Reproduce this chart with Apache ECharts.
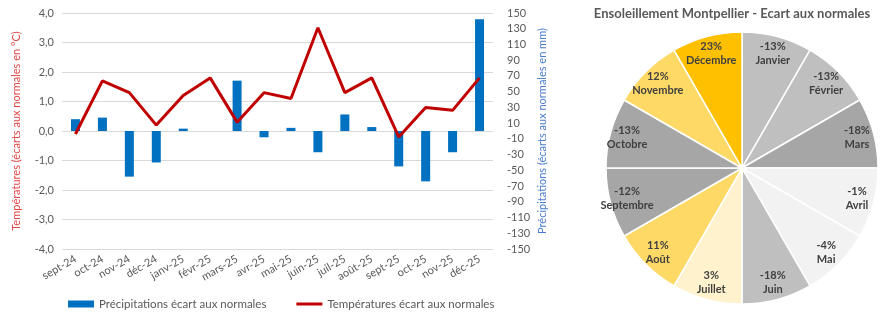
<!DOCTYPE html>
<html>
<head>
<meta charset="utf-8">
<script src="https://cdn.jsdelivr.net/npm/echarts@6/dist/echarts.min.js"></script>
<style>
  html, body { margin: 0; padding: 0; background: #fff; }
  #chart { width: 887px; height: 320px; }
</style>
</head>
<body>
<div id="chart"></div>
<script>
// données du graphique
const mois = ['sept-24', 'oct-24', 'nov-24', 'déc-24', 'janv-25', 'févr-25', 'mars-25', 'avr-25',
  'mai-25', 'juin-25', 'juil-25', 'août-25', 'sept-25', 'oct-25', 'nov-25', 'déc-25']
const precipitations = [15, 17, -58, -40, 3, 0, 64, -8, 4, -27, 21, 5, -45, -64, -27, 142]
const temperatures = [-0.1, 1.7, 1.3, 0.2, 1.2, 1.8, 0.3, 1.3, 1.1, 3.5, 1.3, 1.8, -0.2, 0.8, 0.7, 1.8]

const moisSoleil = ['Janvier', 'Février', 'Mars', 'Avril', 'Mai', 'Juin', 'Juillet', 'Août',
  'Septembre', 'Octobre', 'Novembre', 'Décembre']
const ecartSoleil = [-13, -13, -18, -1, -4, -18, 3, 11, -12, -13, 12, 23]
const couleursSoleil = ['#bfbfbf', '#bfbfbf', '#a6a6a6', '#f2f2f2', '#f2f2f2', '#bfbfbf',
  '#fff2cc', '#ffd966', '#a6a6a6', '#a6a6a6', '#ffd966', '#ffc000']

const police = 'Lato, "Open Sans", sans-serif'
const gris = '#595959'

let chart = echarts.init(document.getElementById('chart'))

// tranches égales, une par mois
let tranches = moisSoleil.map(function (m, i) {
  return { name: m, value: 1, ecart: ecartSoleil[i], itemStyle: { color: couleursSoleil[i] } }
})

let option = {
  animation: false,
  textStyle: { fontFamily: police },
  title: {
    text: 'Ensoleillement Montpellier - Ecart aux normales',
    left: 727,
    top: 2,
    textAlign: 'center',
    textStyle: { fontSize: 13, fontWeight: 'bold', color: gris, fontFamily: police }
  },
  legend: {
    left: 68,
    top: 298,
    padding: 0,
    itemGap: 30,
    itemWidth: 26,
    itemHeight: 7,
    textStyle: { color: gris, fontSize: 11.5 },
    data: [
      { name: 'Précipitations écart aux normales', icon: 'rect' },
      { name: 'Températures écart aux normales', icon: 'path://M0,0L26,0L26,3L0,3Z' }
    ]
  },
  grid: {
    left: 62,
    right: 394,
    top: 13,
    bottom: 71
  },
  xAxis: {
    type: 'category',
    data: mois,
    axisLine: { show: false },
    axisTick: { show: false },
    axisLabel: {
      rotate: 30,
      interval: 0,
      color: gris,
      fontSize: 11,
      margin: 9
    }
  },
  yAxis: [{
    type: 'value',
    min: -4,
    max: 4,
    interval: 1,
    name: 'Températures (écarts aux normales en °C)',
    nameLocation: 'middle',
    nameGap: 40,
    nameTextStyle: { color: '#e04848', fontSize: 11 },
    axisLabel: {
      color: gris,
      fontSize: 11,
      formatter: function (v) { return v.toFixed(1).replace('.', ',') }
    },
    splitLine: { lineStyle: { color: '#d9d9d9', width: 1 } }
  }, {
    type: 'value',
    min: -150,
    max: 150,
    interval: 20,
    name: 'Précipitations (écarts aux normales en mm)',
    nameLocation: 'middle',
    nameGap: 44,
    nameRotate: 90,
    nameTextStyle: { color: '#4a7ccc', fontSize: 11 },
    axisLabel: { color: gris, fontSize: 11, margin: 14 },
    splitLine: { show: false }
  }],
  series: [{
    name: 'Précipitations écart aux normales',
    type: 'bar',
    yAxisIndex: 1,
    data: precipitations,
    barWidth: 9,
    itemStyle: { color: '#0070c0' }
  }, {
    name: 'Températures écart aux normales',
    type: 'line',
    yAxisIndex: 0,
    data: temperatures,
    symbol: 'none',
    lineStyle: { color: '#c00000', width: 3 },
    itemStyle: { color: '#c00000' }
  }, {
    type: 'pie',
    center: [742, 168],
    radius: [0, 136],
    startAngle: 90,
    clockwise: true,
    silent: true,
    label: { show: false },
    itemStyle: { borderColor: '#fff', borderWidth: 1.5 },
    data: tranches
  }, {
    // couche invisible pour placer les étiquettes près du bord
    type: 'pie',
    center: [742, 168],
    radius: [100, 132],
    startAngle: 90,
    clockwise: true,
    silent: true,
    itemStyle: { color: 'rgba(0,0,0,0)' },
    label: {
      position: 'inside',
      color: '#404040',
      fontSize: 11,
      fontWeight: 'bold',
      lineHeight: 14,
      fontFamily: police,
      formatter: function (p) { return p.data.ecart + '%\n' + p.name }
    },
    data: tranches.map(function (t) { return { name: t.name, value: t.value, ecart: t.ecart } })
  }]
}

chart.setOption(option)
window.addEventListener('resize', function () {
  chart.resize()
})
</script>
</body>
</html>
